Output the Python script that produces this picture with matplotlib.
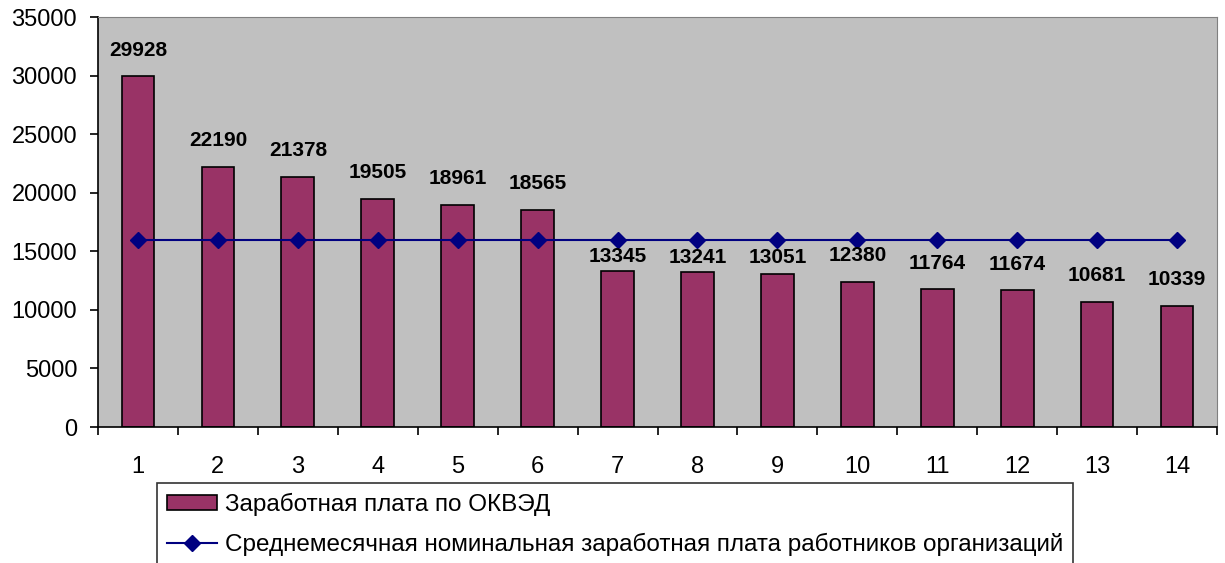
import numpy as np
import matplotlib
matplotlib.use("Agg")
import matplotlib.pyplot as plt
from matplotlib.ticker import FixedLocator, NullFormatter

plt.rcParams['font.family'] = ['Liberation Sans', 'DejaVu Sans']

categories = [str(i) for i in range(1, 15)]
zarplata = [29928, 22190, 21378, 19505, 18961, 18565, 13345,
            13241, 13051, 12380, 11764, 11674, 10681, 10339]
srednemes = [15960] * 14

label_bar = 'Заработная плата по ОКВЭД'
label_line = 'Среднемесячная номинальная заработная плата работников организаций'

# label offsets above bar tops (points); 7-9 were pushed down under the line
label_offsets = [12, 12, 12, 12, 12, 12, 3.5, 3.5, 5, 12, 12, 12, 12, 12]

fig = plt.figure(figsize=(12.25, 5.63), dpi=100)
ax = fig.add_axes([98 / 1225, 1 - 427 / 563, (1217 - 98) / 1225, (427 - 17) / 563])
ax.set_facecolor('#C0C0C0')

x = np.arange(1, len(categories) + 1)
bars = ax.bar(x, zarplata, width=0.41, color='#993366', edgecolor='black',
              linewidth=1.2, label=label_bar, zorder=2)
ax.plot(x, srednemes, color='#000080', lw=1.5, marker='D', markersize=8,
        label=label_line, zorder=3)

for xi, v, off in zip(x, zarplata, label_offsets):
    ax.annotate(str(v), (xi, v), xytext=(0, off), textcoords='offset points',
                ha='center', va='bottom', fontsize=15, fontweight='bold')

ax.set_xlim(0.5, len(categories) + 0.5)
ax.set_ylim(0, 35000)
ax.set_yticks(np.arange(0, 35001, 5000))
ax.tick_params(axis='y', labelsize=17, length=6, width=1.2, direction='out', pad=9)

# tick marks between categories, labels at centres
ax.xaxis.set_major_locator(FixedLocator(np.arange(0.5, len(categories) + 1)))
ax.xaxis.set_major_formatter(NullFormatter())
ax.xaxis.set_minor_locator(FixedLocator(x))
ax.set_xticklabels(categories, minor=True)
ax.tick_params(axis='x', which='major', length=6, width=1.2, direction='out')
ax.tick_params(axis='x', which='minor', length=0, labelsize=17, pad=21)

for s in ['top', 'right']:
    ax.spines[s].set_color('#808080')
for s in ['left', 'bottom']:
    ax.spines[s].set_color('black')
    ax.spines[s].set_linewidth(1.2)

h, l = ax.get_legend_handles_labels()
order = [l.index(label_bar), l.index(label_line)]
leg = fig.legend([h[i] for i in order], [l[i] for i in order],
                 loc='upper left', bbox_to_anchor=(157 / 1225, 1 - 483 / 563),
                 fontsize=17.5, frameon=True, fancybox=False, edgecolor='black',
                 borderpad=0.4, labelspacing=0.7, handlelength=2.05,
                 handleheight=0.55, handletextpad=0.35, borderaxespad=0)
leg.get_frame().set_linewidth(1.2)

fig.savefig('out.png', dpi=100)
